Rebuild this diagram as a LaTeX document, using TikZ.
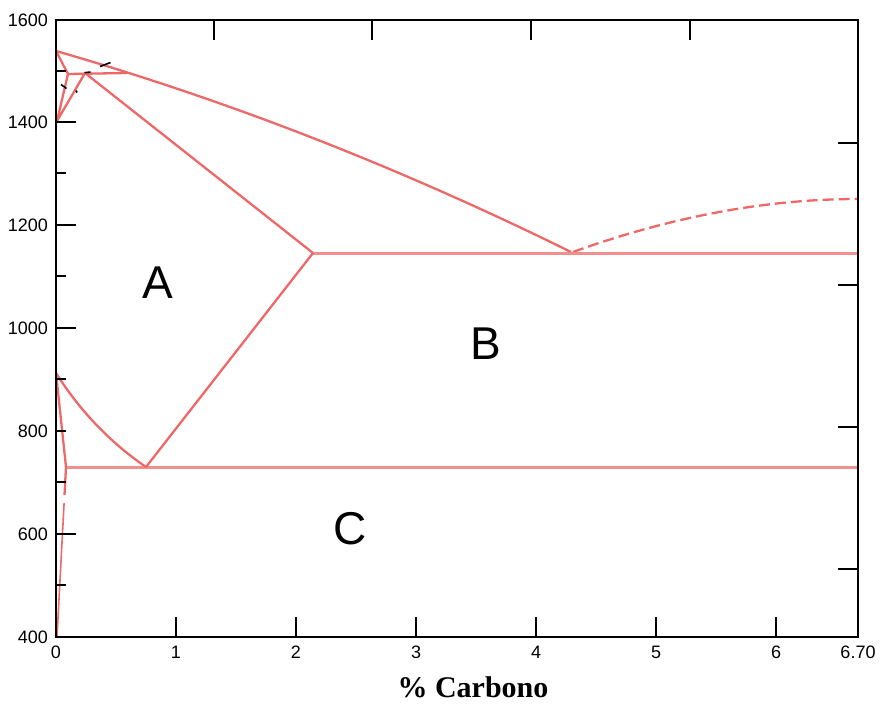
\documentclass[tikz,border=0pt]{standalone}
\usepackage{fontspec}
\setmainfont{Liberation Sans}
\newfontfamily\titlefont{Liberation Serif}
\definecolor{phred}{RGB}{238,104,104}
\definecolor{phpink}{RGB}{242,142,142}
\begin{document}
\begin{tikzpicture}[x=1pt,y=-1pt,
  phase/.style={draw=phred, line width=2.3pt, line join=round},
  iso/.style={draw=phpink, line width=3pt},
  frameline/.style={draw=black, line width=2pt},
  tickline/.style={draw=black, line width=1.6pt},
  blk/.style={draw=black, line width=1.6pt},
  num/.style={font=\fontsize{18}{18}\selectfont, inner sep=0pt},
  region/.style={font=\fontsize{46}{46}\selectfont, inner sep=0pt},
  axtitle/.style={font=\titlefont\bfseries\fontsize{30}{30}\selectfont, inner sep=0pt}
]
\useasboundingbox (0,0) rectangle (880,704);
% key points (pixel coordinates)
\coordinate (Fe0) at (56,51);
\coordinate (dP) at (68,74);
\coordinate (P) at (85,73);
\coordinate (Lp) at (127,73);
\coordinate (g0) at (57,121);
\coordinate (E) at (313,253);
\coordinate (Eut) at (571,252);
\coordinate (EutR) at (858,253);
\coordinate (Rend) at (858,199);
\coordinate (A0) at (56,373);
\coordinate (S) at (146,467);
\coordinate (Q) at (66,467);
\coordinate (QR) at (858,467);
\coordinate (Bot) at (57,637);
\coordinate (gapA) at (64.5,495);
\coordinate (gapB) at (64.1,503);
% phase boundaries
\draw[phase] (Fe0) .. controls (227.7,100.3) and (399.3,167.3) .. (Eut);
\draw[phase, dash pattern=on 11pt off 5pt] (573,252) .. controls (671,216.7) and (766,199) .. (Rend);
\draw[iso] (E) -- (EutR);
\draw[iso] (Q) -- (QR);
\draw[phase] (P) -- (E);
\draw[phase] (E) -- (S);
\draw[phase] (A0) .. controls (80,411) and (110,442.3) .. (S);
\draw[phase] (A0) -- (Q) -- (gapA);
\draw[phase, line width=1.6pt] (gapB) -- (Bot);
\draw[phase] (Fe0) -- (dP) -- (g0) -- (P);
\draw[phase] (dP) -- (Lp);
% small black marks
\draw[blk] (100,66.5) -- (110.5,62.5);
\draw[blk] (84.5,72.7) -- (90.5,72);
\draw[blk] (61,84.5) -- (66.5,88.5);
\draw[blk] (76,90.5) -- (77,92.5);
% frame
\draw[frameline] (56,20) rectangle (858,637);
% left ticks
\foreach \yy in {122,225,328,534} \draw[tickline] (56,\yy) -- (76,\yy);
\foreach \yy in {71,173,276,379,431,482,585} \draw[tickline] (56,\yy) -- (66,\yy);
% right ticks
\foreach \yy in {143,285,427,569} \draw[tickline] (858,\yy) -- (838,\yy);
% bottom ticks
\foreach \xx in {176,296,416,536,656,776} \draw[tickline] (\xx,637) -- (\xx,617);
% top ticks
\foreach \xx in {214,372,531,690} \draw[tickline] (\xx,20) -- (\xx,40);
% left labels
\node[num, anchor=east] (l1600) at (48,20) {1600};
\node[num, anchor=east] (l1400) at (48,122) {1400};
\node[num, anchor=east] (l1200) at (48,225) {1200};
\node[num, anchor=east] (l1000) at (48,328) {1000};
\node[num, anchor=east] (l800) at (48,431) {800};
\node[num, anchor=east] (l600) at (48,534) {600};
\node[num, anchor=east] (l400) at (48,637) {400};
% bottom labels
\node[num, anchor=base] (b0) at (56,658) {0};
\node[num, anchor=base] (b1) at (176,658) {1};
\node[num, anchor=base] (b2) at (296,658) {2};
\node[num, anchor=base] (b3) at (416,658) {3};
\node[num, anchor=base] (b4) at (536,658) {4};
\node[num, anchor=base] (b5) at (656,658) {5};
\node[num, anchor=base] (b6) at (776,658) {6};
\node[num, anchor=base] (b670) at (858,658) {6.70};
% region labels
\node[region] (rA) at (158,283) {A};
\node[region] (rB) at (486,344) {B};
\node[region] (rC) at (350,529) {C};
% axis title
\node[axtitle, anchor=base] (xt) at (473,697) {\% Carbono};
\end{tikzpicture}
\end{document}
